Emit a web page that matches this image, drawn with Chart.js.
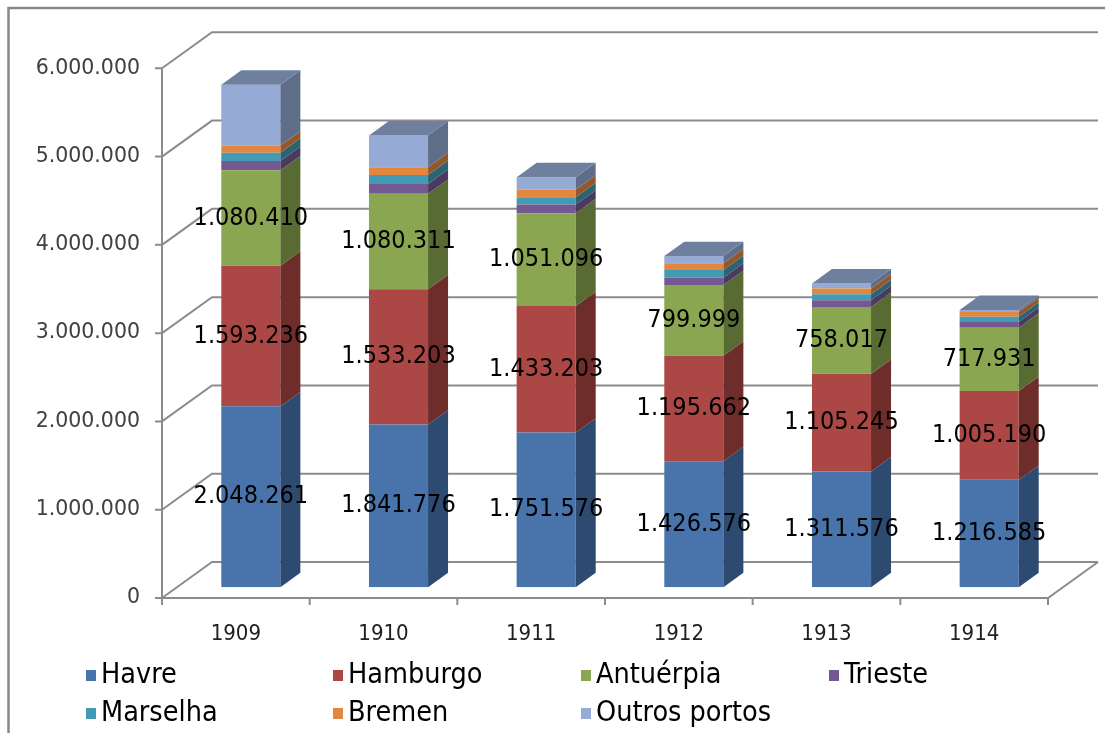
<!DOCTYPE html>
<html>
<head>
<meta charset="utf-8">
<script src="https://cdn.jsdelivr.net/npm/chart.js@4/dist/chart.umd.min.js"></script>
<style>
    body { margin: 0; background: #fff; }
    canvas { display: block; }
</style>
</head>
<body>
<canvas id="portos-chart" width="1105" height="733"></canvas>
<script>
const anos = ['1909', '1910', '1911', '1912', '1913', '1914'];

const havre = [2048261, 1841776, 1751576, 1426576, 1311576, 1216585];
const hamburgo = [1593236, 1533203, 1433203, 1195662, 1105245, 1005190];
const antuerpia = [1080410, 1080311, 1051096, 799999, 758017, 717931];
const trieste = [105000, 113000, 98000, 83000, 76000, 64000];
const marselha = [95000, 102000, 83000, 87000, 68000, 60000];
const bremen = [80000, 87000, 87000, 76000, 64000, 53000];
const outros = [690000, 360000, 140000, 83000, 57000, 23000];

const yTicks = [0, 1000000, 2000000, 3000000, 4000000, 5000000, 6000000];

// front colour, side colour
const cores = {
    havre: ['#4874ab', '#2d4a70'],
    hamburgo: ['#ab4744', '#6e2d2b'],
    antuerpia: ['#8aa651', '#586b33'],
    trieste: ['#735892', '#4a3a5f'],
    marselha: ['#439bb3', '#2b6373'],
    bremen: ['#e3873f', '#94572a'],
    outros: ['#95aad5', '#5f6e88']
};
const corTopo = '#6e809e';

// depth of the 3d box, bars sit between 30% and 70% of it
const profundidade = { x: 50, y: -36 };
const frenteBarra = 0.3;
const fundoBarra = 0.7;

const fmt = v => String(v).replace(/\B(?=(\d{3})+(?!\d))/g, '.');

const caixa3d = {
    id: 'caixa3d',
    beforeDraw(chart) {
        const ctx = chart.ctx;
        ctx.save();
        ctx.strokeStyle = '#888';
        ctx.lineWidth = 2.5;
        ctx.beginPath();
        ctx.moveTo(8.5, 740);
        ctx.lineTo(8.5, 8);
        ctx.lineTo(1110, 8);
        ctx.stroke();
        ctx.restore();
    },
    beforeDatasetsDraw(chart) {
        const ctx = chart.ctx;
        const x = chart.scales.x;
        const y = chart.scales.y;
        const area = chart.chartArea;
        const offX = profundidade.x * frenteBarra;
        const offY = profundidade.y * frenteBarra;
        // front plane edges
        const left = area.left - offX;
        const right = area.right - offX;
        const fy = v => y.getPixelForValue(v) - offY;

        ctx.save();
        ctx.strokeStyle = '#8c8c8c';
        ctx.lineWidth = 2;

        // side wall diagonals and back wall gridlines
        yTicks.forEach(v => {
            const yy = fy(v);
            ctx.beginPath();
            ctx.moveTo(left, yy);
            ctx.lineTo(left + profundidade.x, yy + profundidade.y);
            ctx.lineTo(right + profundidade.x, yy + profundidade.y);
            ctx.stroke();
        });

        // floor
        const y0 = fy(0);
        ctx.beginPath();
        ctx.moveTo(left, y0);
        ctx.lineTo(right, y0);
        ctx.lineTo(right + profundidade.x, y0 + profundidade.y);
        ctx.stroke();

        // value axis with ticks
        ctx.beginPath();
        ctx.moveTo(left, fy(yTicks[yTicks.length - 1]));
        ctx.lineTo(left, y0 + 7);
        yTicks.forEach(v => {
            ctx.moveTo(left - 7, fy(v));
            ctx.lineTo(left, fy(v));
        });
        // category ticks
        const passo = (right - left) / anos.length;
        for (let i = 0; i <= anos.length; i++) {
            ctx.moveTo(left + i * passo, y0);
            ctx.lineTo(left + i * passo, y0 + 7);
        }
        ctx.stroke();

        ctx.fillStyle = '#404040';
        ctx.font = '20.5px "DejaVu Sans"';
        ctx.textAlign = 'right';
        ctx.textBaseline = 'middle';
        yTicks.forEach(v => ctx.fillText(fmt(v), left - 22, fy(v)));

        ctx.font = '22px "DejaVu Sans Condensed", "DejaVu Sans"';
        ctx.textAlign = 'center';
        ctx.fillStyle = '#202020';
        anos.forEach((a, i) => ctx.fillText(a, x.getPixelForValue(i) - offX, y0 + 36));
        ctx.restore();
    },
    afterDatasetsDraw(chart) {
        const ctx = chart.ctx;
        const dx = profundidade.x * (fundoBarra - frenteBarra);
        const dy = profundidade.y * (fundoBarra - frenteBarra);
        const n = chart.data.datasets.length;

        ctx.save();
        chart.data.datasets.forEach((ds, di) => {
            const meta = chart.getDatasetMeta(di);
            meta.data.forEach(bar => {
                const p = bar.getProps(['x', 'y', 'base', 'width'], true);
                const l = p.x - p.width / 2;
                const r = p.x + p.width / 2;
                // side face
                ctx.fillStyle = ds.sideColor;
                ctx.beginPath();
                ctx.moveTo(r, p.y);
                ctx.lineTo(r + dx, p.y + dy);
                ctx.lineTo(r + dx, p.base + dy);
                ctx.lineTo(r, p.base);
                ctx.closePath();
                ctx.fill();
                // lid on the last segment of the stack
                if (di === n - 1) {
                    ctx.fillStyle = corTopo;
                    ctx.beginPath();
                    ctx.moveTo(l, p.y);
                    ctx.lineTo(l + dx, p.y + dy);
                    ctx.lineTo(r + dx, p.y + dy);
                    ctx.lineTo(r, p.y);
                    ctx.closePath();
                    ctx.fill();
                }
            });
        });

        // value labels on the three big series
        ctx.fillStyle = '#000';
        ctx.font = '25px "DejaVu Sans Condensed", "DejaVu Sans"';
        ctx.textAlign = 'center';
        ctx.textBaseline = 'middle';
        [0, 1, 2].forEach(di => {
            const meta = chart.getDatasetMeta(di);
            meta.data.forEach((bar, i) => {
                const p = bar.getProps(['x', 'y', 'base'], true);
                ctx.fillText(fmt(chart.data.datasets[di].data[i]), p.x, (p.y + p.base) / 2);
            });
        });
        ctx.restore();
    },
    afterDraw(chart) {
        const ctx = chart.ctx;
        const colX = [86, 333, 581, 829];
        const rowY = [675, 713];
        ctx.save();
        ctx.font = '28.5px "DejaVu Sans Condensed", "DejaVu Sans"';
        ctx.textBaseline = 'middle';
        ctx.textAlign = 'left';
        chart.data.datasets.forEach((ds, i) => {
            const cx = colX[i % 4];
            const cy = rowY[Math.floor(i / 4)];
            ctx.fillStyle = ds.backgroundColor;
            ctx.fillRect(cx, cy - 5, 10, 11);
            ctx.fillStyle = '#000';
            ctx.fillText(ds.label, cx + 15, cy + 1);
        });
        ctx.restore();
    }
};

const serie = (label, data, cor) => ({
    label,
    data,
    backgroundColor: cor[0],
    sideColor: cor[1],
    borderWidth: 0,
    categoryPercentage: 1,
    barPercentage: 0.4
});

new Chart(document.getElementById('portos-chart').getContext('2d'), {
    type: 'bar',
    data: {
        labels: anos,
        datasets: [
            serie('Havre', havre, cores.havre),
            serie('Hamburgo', hamburgo, cores.hamburgo),
            serie('Antuérpia', antuerpia, cores.antuerpia),
            serie('Trieste', trieste, cores.trieste),
            serie('Marselha', marselha, cores.marselha),
            serie('Bremen', bremen, cores.bremen),
            serie('Outros portos', outros, cores.outros)
        ]
    },
    options: {
        responsive: false,
        animation: false,
        devicePixelRatio: 1,
        layout: {
            padding: { left: 177, right: 42, top: 57.5, bottom: 145.8 }
        },
        plugins: {
            legend: { display: false },
            tooltip: { enabled: false }
        },
        scales: {
            x: { stacked: true, display: false },
            y: {
                stacked: true,
                display: false,
                min: 0,
                max: 6000000,
                ticks: { stepSize: 1000000 }
            }
        }
    },
    plugins: [caixa3d]
});
</script>
</body>
</html>
